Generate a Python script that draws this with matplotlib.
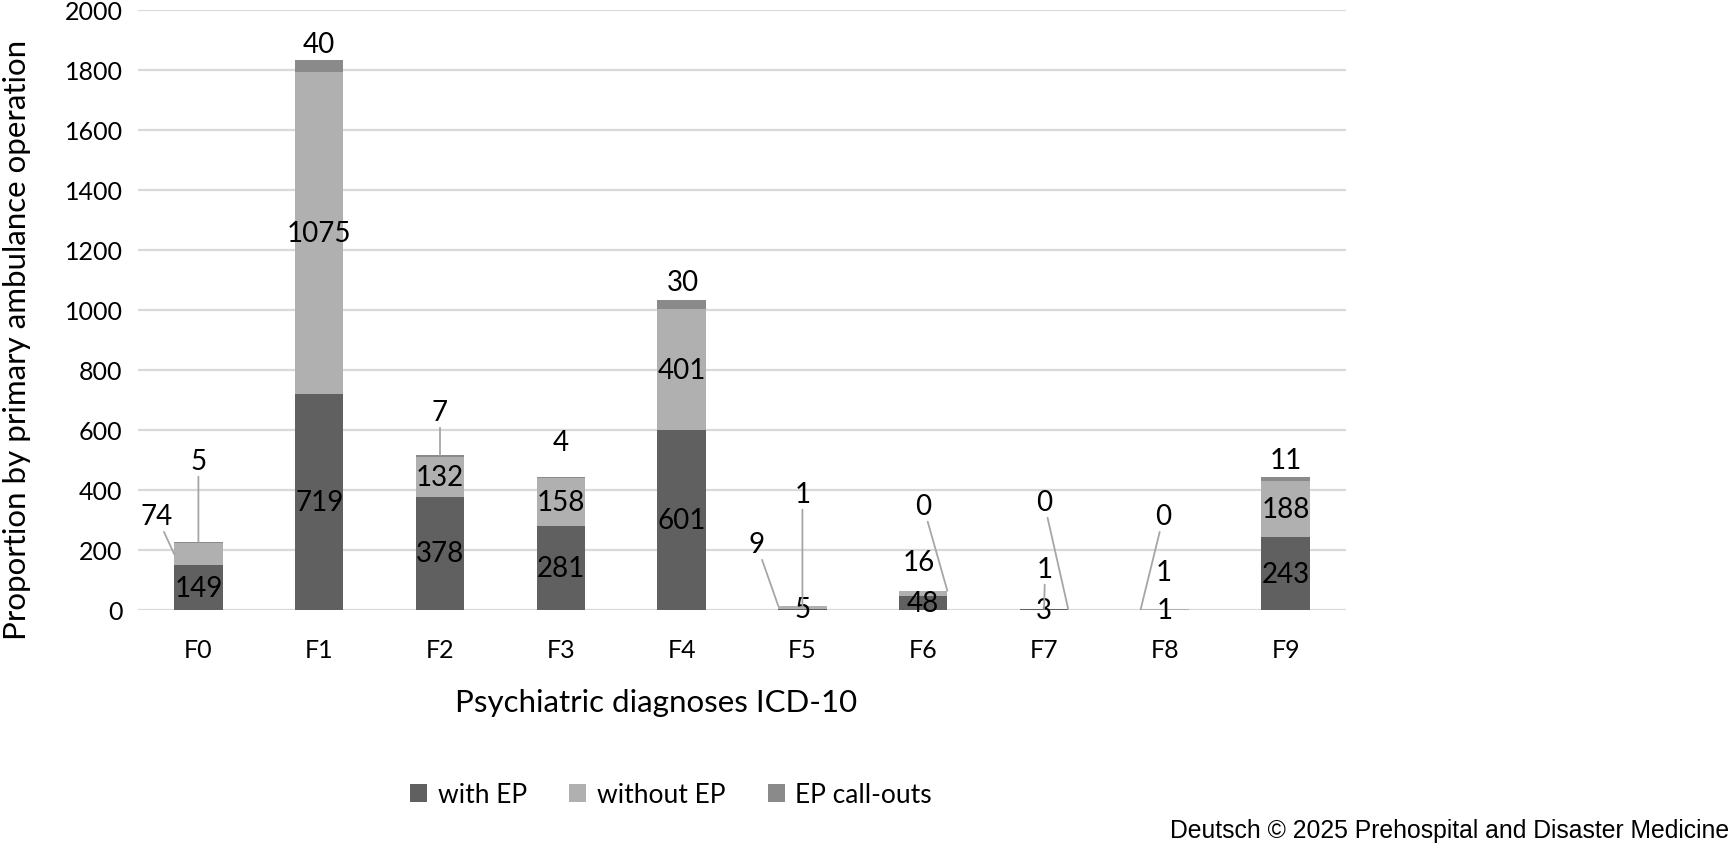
import numpy as np
import matplotlib.pyplot as plt

categories = ['F0', 'F1', 'F2', 'F3', 'F4', 'F5', 'F6', 'F7', 'F8', 'F9']
with_ep = [149, 719, 378, 281, 601, 5, 48, 3, 1, 243]
without_ep = [74, 1075, 132, 158, 401, 9, 16, 1, 1, 188]
ep_callouts = [5, 40, 7, 4, 30, 1, 0, 0, 0, 11]
series_names = ['with EP', 'without EP', 'EP call-outs']
yticks = [0, 200, 400, 600, 800, 1000, 1200, 1400, 1600, 1800, 2000]

colors = ['#606060', '#b0b0b0', '#8a8a8a']
lead_color = '#a6a6a6'
font = ['Lato', 'DejaVu Sans']
plt.rcParams['font.family'] = font
lab_size = 20

# Etykiety przesunięte ręcznie: (seria, kategoria, x tekstu, y tekstu, punkt linii)
moved_labels = [
    (1, 0, -0.345, 313, 'left-mid'),
    (2, 0, 0.0, 497, 'top'),
    (2, 1, 0.995, 1887, None),
    (2, 2, 2.0, 660, 'top'),
    (2, 3, 3.0, 560, None),
    (2, 4, 4.01, 1093, None),
    (1, 5, 4.62, 220, 'left-top'),
    (2, 5, 5.0, 387, 'top'),
    (1, 6, 5.96, 160, None),
    (2, 6, 6.0, 347, 'right-top'),
    (1, 7, 7.01, 137, 'top'),
    (2, 7, 7.0, 360, 'right-top'),
    (1, 8, 7.99, 127, None),
    (2, 8, 7.99, 313, 'left-top'),
    (2, 9, 9.0, 500, None),
]

fig = plt.figure(figsize=(17.33, 8.45), dpi=100)
ax = fig.add_axes([138 / 1733, 1 - 611 / 845, (1346 - 138) / 1733, 600 / 845])

x = np.arange(len(categories))
width = 0.4
series = [with_ep, without_ep, ep_callouts]
bottoms = np.zeros(len(categories))
seg_bottoms = []
for vals, col, name in zip(series, colors, series_names):
    ax.bar(x, vals, width, bottom=bottoms, color=col, label=name, zorder=2)
    seg_bottoms.append(bottoms.copy())
    bottoms = bottoms + np.array(vals)

moved = {(s, i) for s, i, *_ in moved_labels}
for s, vals in enumerate(series):
    for i, v in enumerate(vals):
        if (s, i) in moved:
            continue
        ax.text(x[i], seg_bottoms[s][i] + v / 2, str(v), ha='center', va='center',
                fontsize=lab_size, color='black', zorder=3)

for s, i, tx, ty, anchor in moved_labels:
    v = series[s][i]
    b0 = seg_bottoms[s][i]
    top = b0 + v
    if anchor == 'left-mid':
        xy = (x[i] - width / 2, b0 + v / 2)
    elif anchor == 'left-top':
        xy = (x[i] - width / 2, top)
    elif anchor == 'right-top':
        xy = (x[i] + width / 2, top)
    elif anchor == 'top':
        xy = (x[i], bottoms[i] if s == 2 else top)
    if anchor is None:
        ax.text(tx, ty, str(v), ha='center', va='center', fontsize=lab_size, zorder=3)
    else:
        ax.annotate(str(v), xy=xy, xytext=(tx, ty), ha='center', va='center',
                    fontsize=lab_size, zorder=3,
                    arrowprops=dict(arrowstyle='-', color=lead_color, lw=1.3,
                                    shrinkA=0, shrinkB=0))

ax.set_xlim(-0.5, 9.5)
ax.set_ylim(0, 2000)
ax.set_yticks(yticks)
ax.set_xticks(x)
ax.set_xticklabels(categories)
ax.tick_params(axis='both', length=0, labelsize=18)
ax.tick_params(axis='y', pad=11)
ax.tick_params(axis='x', pad=20)
ax.grid(axis='y', color='#d9d9d9', lw=1.6, zorder=0)
ax.set_axisbelow(True)
for sp in ax.spines.values():
    sp.set_visible(False)

fig.text(656 / 1733, 1 - 703 / 845, 'Psychiatric diagnoses ICD-10', ha='center', va='center', fontsize=22.5)
fig.text(17 / 1733, 1 - 340 / 845, 'Proportion by primary ambulance operation', ha='center', va='center',
         rotation=90, fontsize=22.5)

fig.legend(loc='center', bbox_to_anchor=(671 / 1733, 1 - 796 / 845), ncol=3, frameon=False,
           fontsize=19, handlelength=0.65, handleheight=0.65, handletextpad=0.4, columnspacing=1.6)

fig.text(1729 / 1733, 1 - 831 / 845, 'Deutsch © 2025 Prehospital and Disaster Medicine', ha='right', va='center',
         fontsize=17.8, family='Liberation Sans')

fig.savefig('out.png', dpi=100)
